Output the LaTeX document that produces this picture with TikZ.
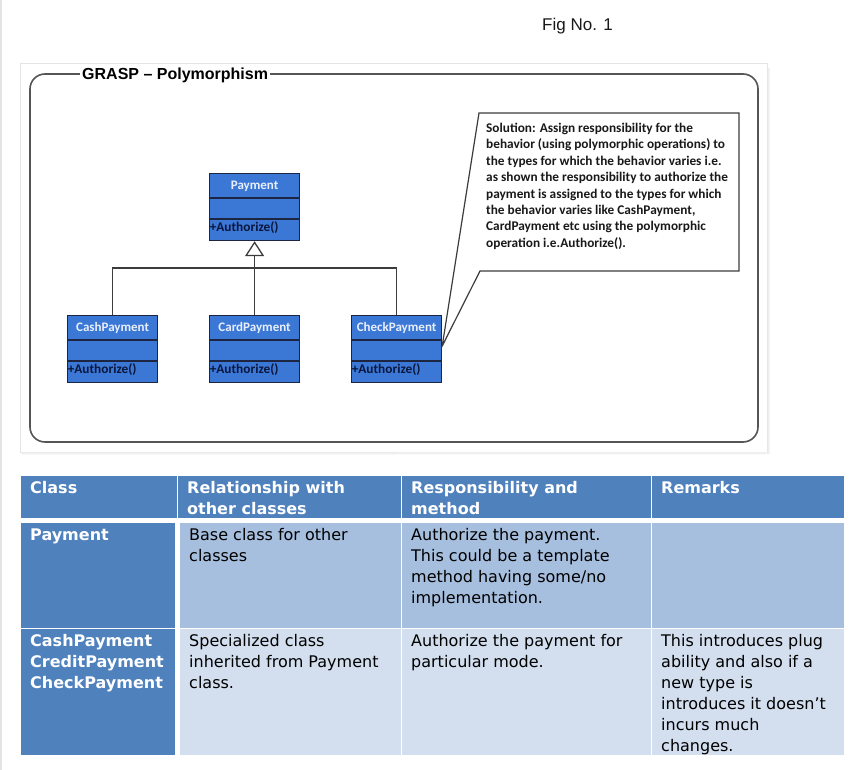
\documentclass[tikz,border=0pt]{standalone}
\usepackage{fontspec}
\usetikzlibrary{arrows.meta,calc}
\newfontfamily\verd{DejaVu Sans}
\newfontfamily\calib{Carlito}
\newfontfamily\arialf{Liberation Sans}
\definecolor{hdrblue}{RGB}{79,129,189}
\definecolor{rowone}{RGB}{167,191,222}
\definecolor{rowtwo}{RGB}{211,223,238}
\definecolor{umlfill}{RGB}{59,120,214}
\definecolor{umledge}{RGB}{28,38,66}
\definecolor{umlop}{RGB}{10,22,60}
\definecolor{umlname}{RGB}{232,238,250}
\definecolor{lineg}{RGB}{60,60,60}
\definecolor{frameg}{RGB}{85,85,85}
\definecolor{imgborder}{RGB}{228,228,228}
\tikzset{
  classbox/.style={draw=umledge, fill=umlfill, line width=1.2pt, minimum width=90pt, minimum height=67pt, inner sep=0pt},
  classline/.style={draw=umledge, line width=1.2pt},
  classname/.style={inner sep=0pt, text=umlname, font=\calib\bfseries\fontsize{13}{15}\selectfont},
  classop/.style={inner sep=0pt, text=umlop, font=\calib\bfseries\fontsize{13.3}{15}\selectfont},
  conn/.style={draw=lineg, line width=1.3pt},
  cellbg/.style={draw=none, inner sep=0pt, anchor=north west},
  celltxt/.style={inner sep=0pt, anchor=north west, align=left, font=\verd\fontsize{16}{21}\selectfont},
  hdrtxt/.style={celltxt, text=white, font=\verd\bfseries\fontsize{16}{21}\selectfont},
}
\newcommand\umlclass[4]{%
  \node[classbox, anchor=north west] (#1) at (#2,#3) {};
  \draw[classline] ($(#1.north west)+(0,25)$) -- ($(#1.north east)+(0,25)$);
  \draw[classline] ($(#1.north west)+(0,46)$) -- ($(#1.north east)+(0,46)$);
  \node[classname, anchor=base] (#1-name) at ($(#1.north)+(0,17)$) {#4};
  \node[classop, anchor=base west] (#1-op) at ($(#1.north west)+(0.6,58.5)$) {+Authorize()};
}
\newcommand\tcell[6]{% name x y w h color
  \node[cellbg, fill=#6, minimum width=#4pt, minimum height=#5pt] (#1) at (#2,#3) {};
}
\newcommand\fr{\rule{0pt}{17pt}}
\begin{document}
\begin{tikzpicture}[x=1pt,y=-1pt]
\useasboundingbox (0,0) rectangle (863,770);
\fill[white] (0,0) rectangle (863,770);
\draw[imgborder, line width=2pt] (1,0) -- (1,770);
% Fig caption
\node[inner sep=0pt, anchor=base west, font=\arialf\fontsize{17}{20}\selectfont, text=black!90] (fig) at (542,30.7) {Fig No. 1};
% image border
\draw[imgborder, line width=1pt] (20.5,63.5) rectangle (767,452);
\draw[imgborder!60, line width=2pt] (768.5,68) -- (768.5,453) -- (22,453.5);
% frame
\draw[frameg, line width=1.6pt, rounded corners=15pt] (30,74) rectangle (758,442);
\node[fill=white, inner xsep=2pt, inner ysep=1pt, anchor=base west, font=\arialf\bfseries\fontsize{16}{19}\selectfont] (title) at (80,79.3) {GRASP – Polymorphism};
% classes
\umlclass{pay}{209}{173}{Payment}
\umlclass{cash}{67}{315}{CashPayment}
\umlclass{card}{209}{315}{CardPayment}
\umlclass{check}{351}{315}{CheckPayment}
% generalization
\draw[conn, -{Triangle[open, length=15pt, width=19pt, fill=white]}] (card.north) -- (pay.south);
\coordinate (bus) at (254,268);
\draw[conn] (cash.north) |- (bus) -| (check.north);
% callout
\coordinate (tip) at ($(check.north east)+(0,31)$);
\draw[conn, fill=white, line width=1.2pt, line join=miter] (479,113) -- (739,113) -- (739,271) -- (480,271) -- (tip) -- cycle;
\node[inner sep=0pt, anchor=north west, align=left, text=black!90, font=\calib\bfseries\fontsize{13.3}{16.4}\selectfont] (sol) at (486,113) {\rule{0pt}{19.3pt}Solution: Assign responsibility for the\\
behavior (using polymorphic operations) to\\
the types for which the behavior varies i.e.\\
as shown the responsibility to authorize the\\
payment is assigned to the types for which\\
the behavior varies like CashPayment,\\
CardPayment etc using the polymorphic\\
operation i.e.Authorize().};
% table cells
\tcell{h1}{21}{476}{156}{41.5}{hdrblue}
\tcell{h2}{178}{476}{223}{41.5}{hdrblue}
\tcell{h3}{402}{476}{249}{41.5}{hdrblue}
\tcell{h4}{652}{476}{192}{41.5}{hdrblue}
\tcell{a1}{21}{523}{154}{105}{hdrblue}
\tcell{a2}{180}{523}{221}{105}{rowone}
\tcell{a3}{402}{523}{249}{105}{rowone}
\tcell{a4}{652}{523}{192}{105}{rowone}
\tcell{b1}{21}{629}{154}{126}{hdrblue}
\tcell{b2}{180}{629}{221}{126}{rowtwo}
\tcell{b3}{402}{629}{249}{126}{rowtwo}
\tcell{b4}{652}{629}{192}{126}{rowtwo}
% header text
\node[hdrtxt] (th1) at (30,476) {\fr Class};
\node[hdrtxt] (th2) at (187,476) {\fr Relationship with\\other classes};
\node[hdrtxt] (th3) at (411,476) {\fr Responsibility and\\method};
\node[hdrtxt] (th4) at (661,476) {\fr Remarks};
% row 1
\node[hdrtxt] (ta1) at (30,523) {\fr Payment};
\node[celltxt] (ta2) at (189,523) {\fr Base class for other\\classes};
\node[celltxt] (ta3) at (411,523) {\fr Authorize the payment.\\This could be a template\\method having some/no\\implementation.};
% row 2
\node[hdrtxt] (tb1) at (30,629) {\fr CashPayment\\CreditPayment\\CheckPayment};
\node[celltxt] (tb2) at (189,629) {\fr Specialized class\\inherited from Payment\\class.};
\node[celltxt] (tb3) at (411,629) {\fr Authorize the payment for\\particular mode.};
\node[celltxt] (tb4) at (661,629) {\fr This introduces plug\\ability and also if a\\new type is\\introduces it doesn’t\\incurs much\\changes.};
\end{tikzpicture}
\end{document}
